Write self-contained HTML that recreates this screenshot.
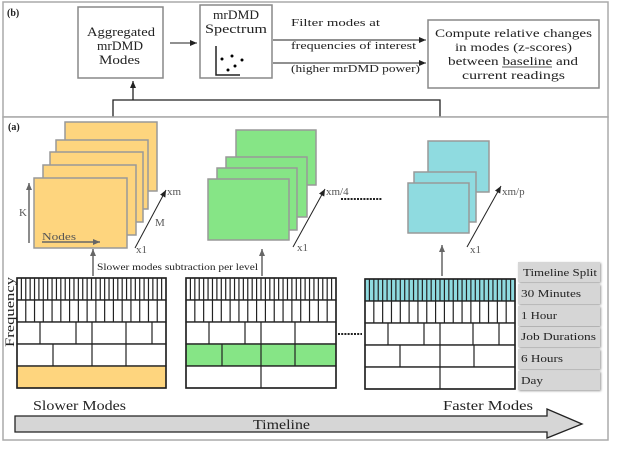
<!DOCTYPE html>
<html><head><meta charset="utf-8"><style>
body{margin:0;background:#fff}
text{font-family:"Liberation Serif",serif;fill:#222}
</style></head><body>
<svg width="640" height="470" viewBox="0 0 640 470" xmlns="http://www.w3.org/2000/svg">
<defs>
<marker id="ah" markerWidth="8" markerHeight="8" refX="7" refY="4" orient="auto" markerUnits="userSpaceOnUse"><path d="M0,1 L7,4 L0,7 z" fill="#222"/></marker>
<marker id="ag" markerWidth="8" markerHeight="8" refX="7" refY="4" orient="auto" markerUnits="userSpaceOnUse"><path d="M0,1 L7,4 L0,7 z" fill="#666"/></marker>
<filter id="sh"><feDropShadow dx="1" dy="1" stdDeviation="1" flood-color="#999"/></filter>
</defs>
<!-- panel b -->
<rect x="3" y="2" width="605" height="115" fill="#fff" stroke="#aaa" stroke-width="1.5"/>
<text x="7" y="16" font-size="10" font-weight="bold">(b)</text>
<rect x="78" y="7" width="85" height="71" fill="#fff" stroke="#888" stroke-width="1.5"/>
<text font-size="12.5">
<tspan x="87" y="36" textLength="68" lengthAdjust="spacingAndGlyphs">Aggregated</tspan>
<tspan x="97" y="50" textLength="46" lengthAdjust="spacingAndGlyphs">mrDMD</tspan>
<tspan x="99" y="64" textLength="41" lengthAdjust="spacingAndGlyphs">Modes</tspan></text>
<rect x="200" y="5" width="72" height="73" fill="#fff" stroke="#888" stroke-width="1.5"/>
<text font-size="12.5"><tspan x="213" y="19" textLength="46" lengthAdjust="spacingAndGlyphs">mrDMD</tspan><tspan x="205" y="33" textLength="62" lengthAdjust="spacingAndGlyphs">Spectrum</tspan></text>
<path d="M216,46 V75 H240" fill="none" stroke="#222" stroke-width="1.5"/>
<circle cx="222" cy="59" r="1.5"/><circle cx="232" cy="56" r="1.5"/><circle cx="235" cy="66" r="1.5"/><circle cx="228" cy="70" r="1.5"/><circle cx="242" cy="60" r="1.5"/>
<line x1="170" y1="43" x2="197" y2="43" stroke="#222" marker-end="url(#ah)"/>
<line x1="273" y1="40" x2="426" y2="40" stroke="#222" marker-end="url(#ah)"/>
<line x1="273" y1="63" x2="426" y2="63" stroke="#222" marker-end="url(#ah)"/>
<text font-size="10.5"><tspan x="291" y="26" textLength="89" lengthAdjust="spacingAndGlyphs">Filter modes at</tspan><tspan x="291" y="49" textLength="125" lengthAdjust="spacingAndGlyphs">frequencies of interest</tspan><tspan x="291" y="72" textLength="129" lengthAdjust="spacingAndGlyphs">(higher mrDMD power)</tspan></text>
<rect x="428" y="20" width="171" height="68" fill="#fff" stroke="#888" stroke-width="1.5"/>
<text font-size="12"><tspan x="435" y="37" textLength="157" lengthAdjust="spacingAndGlyphs">Compute relative changes</tspan><tspan x="455" y="51" textLength="117" lengthAdjust="spacingAndGlyphs">in modes (z-scores)</tspan><tspan x="448" y="65" textLength="130" lengthAdjust="spacingAndGlyphs">between baseline and</tspan><tspan x="462" y="79" textLength="103" lengthAdjust="spacingAndGlyphs">current readings</tspan></text>
<line x1="502" y1="67" x2="552" y2="67" stroke="#222" stroke-width="0.8"/>
<path d="M113,117 V100 H440 V117" fill="none" stroke="#222" stroke-width="1.3"/>
<line x1="133" y1="100" x2="133" y2="81" stroke="#222" stroke-width="1.3" marker-end="url(#ah)"/>
<!-- panel a -->
<rect x="3" y="117" width="605" height="323" fill="#fff" stroke="#aaa" stroke-width="1.5"/>
<text x="8" y="130" font-size="10" font-weight="bold">(a)</text>
<g fill="#fed57e" stroke="#999" stroke-width="1.5">
<rect x="65" y="122" width="92" height="69"/>
<rect x="56" y="140" width="92" height="69"/>
<rect x="50" y="152" width="93" height="70"/>
<rect x="43" y="165" width="93" height="70"/>
<rect x="34" y="178" width="93" height="70"/>
</g>
<line x1="29" y1="243" x2="29" y2="183" stroke="#666" stroke-width="1.5" marker-end="url(#ag)"/>
<text x="19" y="216" font-size="11" style="fill:#555">K</text>
<text x="42" y="240" font-size="11" style="fill:#555" textLength="34" lengthAdjust="spacingAndGlyphs">Nodes</text>
<line x1="42" y1="242" x2="100" y2="242" stroke="#666" stroke-width="1.5" marker-end="url(#ag)"/>
<line x1="135" y1="248" x2="166" y2="190" stroke="#222" marker-end="url(#ah)"/>
<text font-size="11" style="fill:#555"><tspan x="167" y="195">xm</tspan><tspan x="155" y="226">M</tspan><tspan x="136" y="253">x1</tspan></text>
<g fill="#86e586" stroke="#999" stroke-width="1.5">
<rect x="236" y="130" width="80" height="55"/>
<rect x="226" y="157" width="81" height="60"/>
<rect x="217" y="168" width="80" height="62"/>
<rect x="208" y="179" width="81" height="61"/>
</g>
<line x1="293" y1="247" x2="325" y2="189" stroke="#222" marker-end="url(#ah)"/>
<text font-size="11" style="fill:#555"><tspan x="326" y="195">xm/4</tspan><tspan x="297" y="251">x1</tspan></text>
<line x1="341" y1="199" x2="382" y2="199" stroke="#222" stroke-width="2" stroke-dasharray="2,1.2"/>
<g fill="#8fdbe0" stroke="#999" stroke-width="1.5">
<rect x="428" y="141" width="61" height="51"/>
<rect x="414" y="172" width="62" height="50"/>
<rect x="408" y="183" width="61" height="50"/>
</g>
<line x1="467" y1="247" x2="501" y2="186" stroke="#222" marker-end="url(#ah)"/>
<text font-size="11" style="fill:#555"><tspan x="502" y="195">xm/p</tspan><tspan x="470" y="253">x1</tspan></text>
<line x1="93" y1="276" x2="93" y2="249" stroke="#666" stroke-width="1.5" marker-end="url(#ag)"/>
<line x1="262" y1="276" x2="262" y2="249" stroke="#666" stroke-width="1.5" marker-end="url(#ag)"/>
<line x1="442" y1="276" x2="442" y2="245" stroke="#666" stroke-width="1.5" marker-end="url(#ag)"/>
<text x="97" y="270" font-size="9.5" textLength="161" lengthAdjust="spacingAndGlyphs">Slower modes subtraction per level</text>
<g id="grids" stroke="#222" stroke-width="1.2" fill="#fff"></g>
<text transform="translate(14,312) rotate(-90)" font-size="13" text-anchor="middle" textLength="70" lengthAdjust="spacingAndGlyphs">Frequency</text>
<line x1="338" y1="334" x2="362" y2="334" stroke="#222" stroke-width="2" stroke-dasharray="2,1.2"/>
<g filter="url(#sh)">
<rect x="518" y="262" width="82" height="20" fill="#d6d6d6"/>
<rect x="518" y="284" width="82" height="20" fill="#d6d6d6"/>
<rect x="518" y="306" width="82" height="20" fill="#d6d6d6"/>
<rect x="518" y="327" width="82" height="20" fill="#d6d6d6"/>
<rect x="518" y="349" width="82" height="20" fill="#d6d6d6"/>
<rect x="518" y="371" width="82" height="19" fill="#d6d6d6"/>
</g>
<text font-size="10.5"><tspan x="523" y="276" textLength="74" lengthAdjust="spacingAndGlyphs">Timeline Split</tspan><tspan x="521" y="297" textLength="60" lengthAdjust="spacingAndGlyphs">30 Minutes</tspan><tspan x="521" y="319" textLength="36" lengthAdjust="spacingAndGlyphs">1 Hour</tspan><tspan x="521" y="340" textLength="75" lengthAdjust="spacingAndGlyphs">Job Durations</tspan><tspan x="521" y="362" textLength="42" lengthAdjust="spacingAndGlyphs">6 Hours</tspan><tspan x="521" y="384" textLength="22" lengthAdjust="spacingAndGlyphs">Day</tspan></text>
<text x="33" y="410" font-size="13.5" textLength="93" lengthAdjust="spacingAndGlyphs">Slower Modes</text>
<text x="443" y="410" font-size="13.5" textLength="90" lengthAdjust="spacingAndGlyphs">Faster Modes</text>
<path d="M15,416 H547 V409 L582,424 L547,438 V432 H15 Z" fill="#d6d6d6" stroke="#222" stroke-width="1.3"/>
<text x="253" y="429" font-size="13.5" textLength="57" lengthAdjust="spacingAndGlyphs">Timeline</text>
</svg>
<script>
(function(){
var g=document.getElementById('grids'),h='';
function rect(x,y,w,hh,f){h+='<rect x="'+x+'" y="'+y+'" width="'+w+'" height="'+hh+'" fill="'+f+'"/>';}
function ln(x,y1,y2){h+='<line x1="'+x+'" y1="'+y1+'" x2="'+x+'" y2="'+y2+'"/>';}
function grid(x0,x1,y0,row1fill,row4fill,row5fill,r3,r4,r5){
 var rh=22,w=x1-x0;
 rect(x0,y0,w,rh,row1fill);rect(x0,y0+rh,w,rh,'#fff');rect(x0,y0+2*rh,w,rh,'#fff');rect(x0,y0+3*rh,w,rh,row4fill);rect(x0,y0+4*rh,w,rh,row5fill);
 for(var i=1;i<34;i++)ln(x0+w*i/34,y0,y0+rh);
 for(var i=1;i<17;i++)ln(x0+w*i/17,y0+rh,y0+2*rh);
 r3.forEach(function(x){ln(x,y0+2*rh,y0+3*rh)});
 r4.forEach(function(x){ln(x,y0+3*rh,y0+4*rh)});
 r5.forEach(function(x){ln(x,y0+4*rh,y0+5*rh)});
 for(var j=1;j<5;j++)h+='<line x1="'+x0+'" y1="'+(y0+j*rh)+'" x2="'+x1+'" y2="'+(y0+j*rh)+'"/>';
 h+='<rect x="'+x0+'" y="'+y0+'" width="'+w+'" height="'+5*rh+'" fill="none" stroke-width="1.6"/>';
}
grid(17,166,278,'#fff','#fff','#fed57e',[40,76,92,126,152],[53,92,126],[]);
grid(186,336,278,'#fff','#86e586','#fff',[209,245,261,295],[222,261,295],[261]);
grid(365,515,279,'#8fdbe0','#fff','#fff',[388,424,440,473,499],[400,440,474],[440]);
g.innerHTML=h;
})();
</script>
</body></html>
